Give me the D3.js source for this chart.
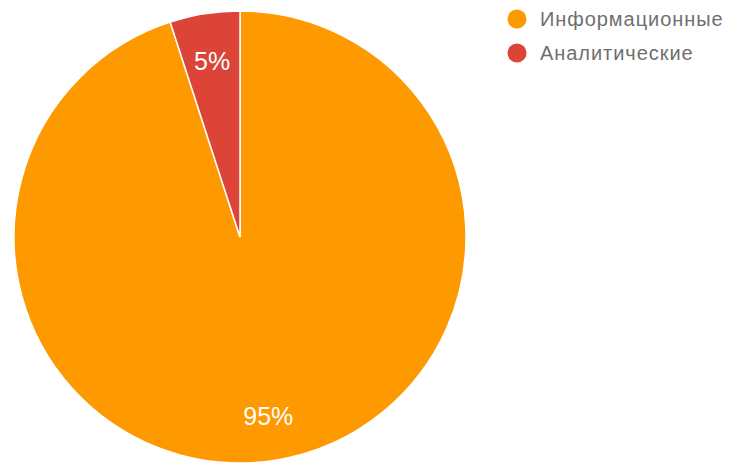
<!DOCTYPE html>
<html>
<head>
<meta charset="utf-8">
<script src="https://cdn.jsdelivr.net/npm/d3@7"></script>
<style>
  html, body { margin: 0; padding: 0; background: #fff; }
  svg { display: block; }
</style>
</head>
<body>
<svg id="chart" width="729" height="466"></svg>
<script>
// Answer categories and their shares (percent)
const categories = ["Информационные", "Аналитические"];
const values = [95, 5];
const colors = ["#ff9900", "#db4437"];

const width = 729, height = 466;
const cx = 240, cy = 237, radius = 226;

const svg = d3.select("#chart");

const pie = d3.pie().sort(null).value(d => d.value);
const arcs = pie(categories.map((c, i) => ({ name: c, value: values[i], color: colors[i] })));
const arc = d3.arc().innerRadius(0).outerRadius(radius);

const g = svg.append("g").attr("transform", `translate(${cx},${cy})`);

g.selectAll("path.slice")
  .data(arcs)
  .join("path")
  .attr("class", "slice")
  .attr("d", arc)
  .attr("fill", d => d.data.color)
  .attr("stroke", "#ffffff")
  .attr("stroke-width", 1.5);

// Percentage labels placed along the slice bisector
const total = d3.sum(values);
const labelRadius = [0.8, 0.79];
g.selectAll("text.pct")
  .data(arcs)
  .join("text")
  .attr("class", "pct")
  .attr("transform", (d, i) => {
    const a = (d.startAngle + d.endAngle) / 2;
    const r = radius * labelRadius[i];
    return `translate(${Math.sin(a) * r},${-Math.cos(a) * r})`;
  })
  .attr("text-anchor", "middle")
  .attr("dy", "0.36em")
  .attr("font-family", "Liberation Sans, Arial, sans-serif")
  .attr("font-size", 25)
  .attr("fill", "#ffffff")
  .text(d => Math.round(d.data.value / total * 100) + "%");

// Legend
const legend = svg.append("g").attr("transform", "translate(517,19)");
const items = legend.selectAll("g.item")
  .data(arcs)
  .join("g")
  .attr("class", "item")
  .attr("transform", (d, i) => `translate(0,${i * 34})`);

items.append("circle")
  .attr("r", 9.5)
  .attr("fill", d => d.data.color);

items.append("text")
  .attr("x", 23)
  .attr("y", 7)
  .attr("font-family", "Liberation Sans, Arial, sans-serif")
  .attr("font-size", 20)
  .attr("letter-spacing", "0.95px")
  .attr("fill", "#6f6f6f")
  .text(d => d.data.name);
</script>
</body>
</html>
